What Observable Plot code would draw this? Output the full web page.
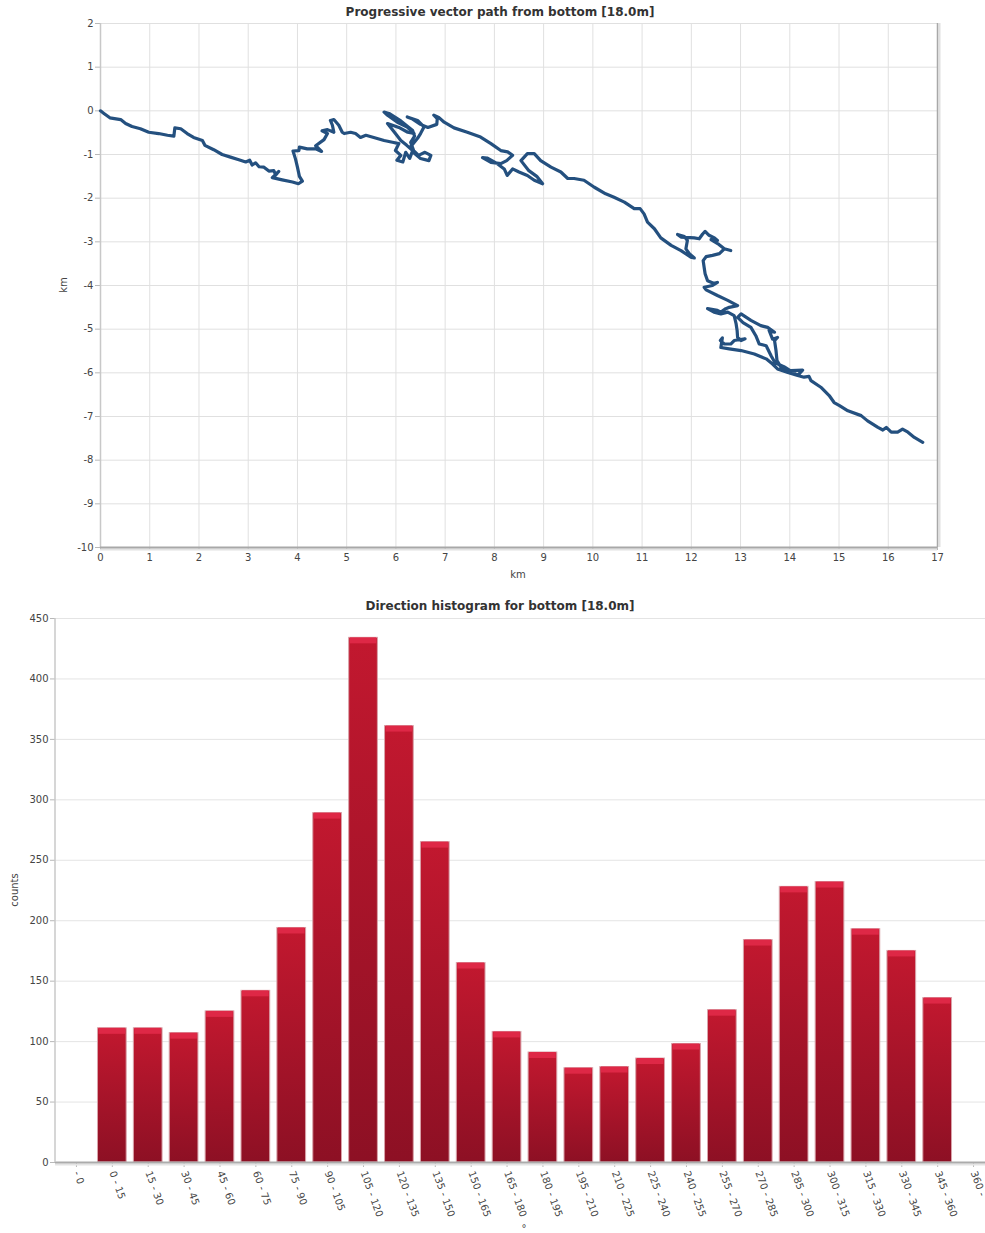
<!DOCTYPE html>
<html>
<head>
<meta charset="utf-8">
<script src="https://cdn.jsdelivr.net/npm/d3@7"></script>
<script src="https://cdn.jsdelivr.net/npm/@observablehq/plot@0.6"></script>
<style>
  html, body { margin: 0; padding: 0; background: #fff; overflow: hidden; }
  body { font-family: "DejaVu Sans", Verdana, sans-serif; }
  #wrap { position: relative; width: 985px; height: 1233px; overflow: hidden; }
  #wrap svg { position: absolute; left: 0; }
  .abs { position: absolute; white-space: nowrap; color: #333; transform: translate(-50%, -50%); }
  .title { font-weight: bold; font-size: 12px; }
  .lab { font-size: 10px; color: #444; }
  .rot { transform: translate(-50%, -50%) rotate(-90deg); }
  g[aria-label*="axis"] line, g[aria-label*="axis tick"] path { stroke: #b8b8b8; }
</style>
</head>
<body>
<div id="wrap">
  <div class="abs title" style="left:500px; top:12px;">Progressive vector path from bottom [18.0m]</div>
  <div class="abs lab rot" style="left:63px; top:285px;">km</div>
  <div class="abs lab" style="left:518px; top:574px;">km</div>
  <div class="abs title" style="left:500px; top:606px;">Direction histogram for bottom [18.0m]</div>
  <div class="abs lab rot" style="left:14px; top:890px;">counts</div>
  <div class="abs lab" style="left:524px; top:1228px;">°</div>
</div>
<script>
// ---------- Progressive vector path (km east / km north) ----------
const east = [
  0, 0.07, 0.19, 0.41, 0.51, 0.64, 0.81, 0.98, 1.18, 1.36, 1.49, 1.51, 1.63, 1.76, 1.89, 2.07, 2.12, 2.30, 2.47, 2.64,
  2.81, 2.95, 3.03, 3.08, 3.15, 3.22, 3.32, 3.42, 3.52, 3.56, 3.62, 3.49, 3.69, 3.90, 4.02, 4.10, 4.04, 4.00, 3.96, 3.91,
  4.03, 4.04, 4.20, 4.37, 4.49, 4.37, 4.54, 4.61, 4.50, 4.61, 4.74, 4.71, 4.67, 4.74, 4.84, 4.91, 4.95, 5.08, 5.18, 5.28,
  5.39, 5.55, 5.76, 5.93,
  6.06, 5.99, 6.10, 6.02, 6.14, 6.20, 6.28, 6.34, 6.22, 6.10, 5.99, 5.83, 6.06, 6.24, 6.37, 6.23, 6.03, 5.83, 5.76, 5.86,
  6.10, 6.34, 6.38, 6.30, 6.36, 6.46, 6.59, 6.71, 6.67, 6.50, 6.38, 6.30, 6.44, 6.50, 6.57, 6.44, 6.23, 6.34, 6.50, 6.65,
  6.83, 6.84, 6.77, 6.87, 6.98, 7.18, 7.45, 7.72, 7.93, 8.13, 8.27,
  8.37, 8.25, 8.13, 7.93, 7.76, 7.85, 8.06, 8.20, 8.26, 8.37, 8.50, 8.67, 8.81, 8.98, 8.86, 8.70, 8.54, 8.67, 8.81, 8.94,
  9.15, 9.35, 9.49, 9.62, 9.82, 10.03, 10.26, 10.43, 10.64, 10.84, 10.96, 11.04, 11.11, 11.25, 11.38, 11.59, 11.79, 11.99, 12.06, 11.96,
  11.89, 11.92, 11.86, 11.72, 11.79, 12.06, 12.16, 12.23, 12.28, 12.36, 12.47, 12.53, 12.40, 12.56, 12.67, 12.80, 12.67, 12.57, 12.43, 12.30,
  12.24, 12.26, 12.28, 12.33, 12.45, 12.53, 12.43, 12.26, 12.30, 12.53, 12.74, 12.94, 12.77, 12.70, 12.60, 12.53, 12.33, 12.46, 12.60, 12.74,
  12.87, 12.91, 12.93, 12.94, 13.01, 13.09, 12.87, 12.80, 12.67, 12.59, 12.63, 12.60, 12.77, 13.01, 13.28, 13.52, 13.65, 13.75, 13.96, 14.16,
  14.26, 14.02, 13.82, 13.74, 13.72, 13.69, 13.75, 13.65, 13.58, 13.69, 13.55, 13.41, 13.21, 13.01, 12.94, 13.05, 13.21, 13.31, 13.38, 13.52,
  13.62, 13.70, 13.88, 14.16, 14.29, 14.39, 14.43, 14.63, 14.70, 14.80, 14.90, 15.01, 15.18, 15.45, 15.58, 15.79, 15.89, 15.96, 16.06, 16.19,
  16.29, 16.40, 16.53, 16.70
];
const north = [
  0, -0.06, -0.16, -0.20, -0.29, -0.36, -0.41, -0.49, -0.52, -0.56, -0.58, -0.39, -0.41, -0.52, -0.61, -0.68, -0.79, -0.89, -1.00, -1.06,
  -1.12, -1.17, -1.13, -1.24, -1.19, -1.28, -1.29, -1.38, -1.37, -1.47, -1.39, -1.53, -1.58, -1.63, -1.67, -1.61, -1.50, -1.29, -1.10, -0.92,
  -0.91, -0.83, -0.87, -0.87, -0.93, -0.80, -0.66, -0.52, -0.46, -0.43, -0.49, -0.33, -0.22, -0.20, -0.33, -0.49, -0.52, -0.49, -0.52, -0.61,
  -0.56, -0.61, -0.68, -0.72,
  -0.75, -0.91, -1.02, -1.13, -1.17, -0.95, -1.09, -0.91, -0.79, -0.68, -0.52, -0.29, -0.38, -0.49, -0.52, -0.37, -0.26, -0.10, -0.03, -0.06,
  -0.23, -0.45, -0.58, -0.72, -0.91, -1.02, -0.95, -1.02, -1.14, -1.09, -0.98, -0.82, -0.63, -0.52, -0.37, -0.22, -0.14, -0.19, -0.31, -0.38,
  -0.31, -0.18, -0.10, -0.15, -0.26, -0.39, -0.49, -0.60, -0.75, -0.91, -0.94,
  -1.02, -1.14, -1.21, -1.18, -1.07, -1.08, -1.21, -1.33, -1.48, -1.33, -1.40, -1.48, -1.59, -1.67, -1.50, -1.37, -1.14, -0.98, -0.98, -1.14,
  -1.29, -1.40, -1.55, -1.55, -1.59, -1.75, -1.90, -1.98, -2.09, -2.24, -2.24, -2.36, -2.55, -2.70, -2.91, -3.08, -3.20, -3.35, -3.37, -3.27,
  -3.16, -2.97, -2.88, -2.83, -2.89, -2.91, -2.93, -2.82, -2.76, -2.85, -2.91, -2.97, -2.95, -3.06, -3.16, -3.20, -3.16, -3.27, -3.31, -3.34,
  -3.43, -3.58, -3.73, -3.89, -3.95, -3.93, -4.00, -4.04, -4.10, -4.23, -4.34, -4.46, -4.50, -4.53, -4.61, -4.57, -4.53, -4.61, -4.65, -4.61,
  -4.69, -4.88, -5.03, -5.19, -5.26, -5.22, -5.26, -5.34, -5.34, -5.26, -5.20, -5.42, -5.45, -5.49, -5.57, -5.68, -5.80, -5.91, -5.99, -6.06,
  -5.94, -5.95, -5.87, -5.72, -5.49, -5.26, -5.19, -5.23, -5.03, -5.07, -4.96, -4.92, -4.80, -4.65, -4.73, -4.85, -4.96, -5.15, -5.34, -5.38,
  -5.61, -5.77, -5.86, -6.06, -6.10, -6.08, -6.18, -6.33, -6.41, -6.52, -6.68, -6.75, -6.87, -6.98, -7.10, -7.25, -7.31, -7.25, -7.36, -7.36,
  -7.29, -7.36, -7.48, -7.59
];
const xTicks = [0, 1, 2, 3, 4, 5, 6, 7, 8, 9, 10, 11, 12, 13, 14, 15, 16, 17];
const yTicks = [-10, -9, -8, -7, -6, -5, -4, -3, -2, -1, 0, 1, 2];

// ---------- Direction histogram ----------
const bins = ["- 0", "0 - 15", "15 - 30", "30 - 45", "45 - 60", "60 - 75", "75 - 90", "90 - 105",
  "105 - 120", "120 - 135", "135 - 150", "150 - 165", "165 - 180", "180 - 195", "195 - 210",
  "210 - 225", "225 - 240", "240 - 255", "255 - 270", "270 - 285", "285 - 300", "300 - 315",
  "315 - 330", "330 - 345", "345 - 360", "360 -"];
const counts = [0, 111, 111, 107, 125, 142, 194, 289, 434, 361, 265, 165, 108, 91, 78, 79, 86, 98,
  126, 184, 228, 232, 193, 175, 136, 0];
const countTicks = [0, 50, 100, 150, 200, 250, 300, 350, 400, 450];

const wrap = document.getElementById("wrap");
const font = {fontFamily: "'DejaVu Sans', Verdana, sans-serif", fontSize: "10px", color: "#444", background: "transparent"};
const plain = d => String(d);

const pathRows = east.map((e, i) => ({e, n: north[i]}));

const topChart = Plot.plot({
  width: 985, height: 590,
  marginLeft: 100, marginRight: 48, marginTop: 23, marginBottom: 43,
  style: font,
  x: {domain: [0, 17], ticks: xTicks, tickFormat: plain, tickSize: 3, tickPadding: 3, label: null},
  y: {domain: [-10, 2], ticks: yTicks, tickFormat: plain, tickSize: 5, tickPadding: 2, label: null},
  marks: [
    Plot.ruleX(xTicks, {stroke: "#e0e0e0"}),
    Plot.ruleY(yTicks, {stroke: "#e0e0e0"}),
    Plot.ruleX([0], {stroke: "#c8c8c8", strokeWidth: 1.5}),
    Plot.ruleX([17], {dx: 2, stroke: "#e0e0e0", strokeWidth: 2}),
    Plot.ruleX([17], {stroke: "#a8a8a8", strokeWidth: 1.5}),
    Plot.ruleY([-10], {dy: 2, stroke: "#e2e2e2", strokeWidth: 2}),
    Plot.ruleY([-10], {stroke: "#a8a8a8", strokeWidth: 2}),
    Plot.line(pathRows, {x: "e", y: "n", stroke: "#24507f", strokeWidth: 3.2, strokeLinejoin: "round", strokeLinecap: "round"})
  ]
});
topChart.style.top = "0px";
wrap.appendChild(topChart);

const rows = bins.map((b, i) => ({bin: b, count: counts[i]})).filter(d => d.count > 0);

const bottomChart = Plot.plot({
  width: 985, height: 643,
  marginLeft: 55, marginRight: 0, marginTop: 28, marginBottom: 71,
  style: font,
  x: {domain: bins, insetLeft: 3, insetRight: -6, paddingInner: 0.2, paddingOuter: 0.1, round: false,
      tickRotate: 70, tickSize: 5, tickPadding: 4, label: null},
  y: {domain: [0, 450], ticks: countTicks, tickFormat: plain, tickSize: 5, tickPadding: 2, label: null},
  marks: [
    Plot.ruleY(countTicks, {stroke: "#e4e4e4"}),
    Plot.barY(rows, {x: "bin", y: "count", fill: "url(#barGrad)", stroke: "#d9a3aa", strokeWidth: 1}),
    Plot.barY(rows, {x: "bin", y1: "count", y2: "count", insetBottom: -6, insetLeft: 1, insetRight: 1, fill: "#de2846"}),
    Plot.ruleY([0], {dy: 2, stroke: "#e4e4e4", strokeWidth: 2}),
    Plot.ruleY([0], {stroke: "#ababab", strokeWidth: 2})
  ]
});
bottomChart.style.top = "590px";
d3.select(bottomChart).insert("defs", ":first-child").html(
  '<linearGradient id="barGrad" x1="0" y1="0" x2="0" y2="1">' +
  '<stop offset="0" stop-color="#c2182f"/><stop offset="1" stop-color="#8d1024"/></linearGradient>');
const ys = bottomChart.scale("y");
d3.select(bottomChart).append("line")
  .attr("x1", 55).attr("x2", 55)
  .attr("y1", ys.apply(450)).attr("y2", ys.apply(0))
  .attr("stroke", "#c8c8c8").attr("stroke-width", 1.5);
wrap.appendChild(bottomChart);
</script>
</body>
</html>
